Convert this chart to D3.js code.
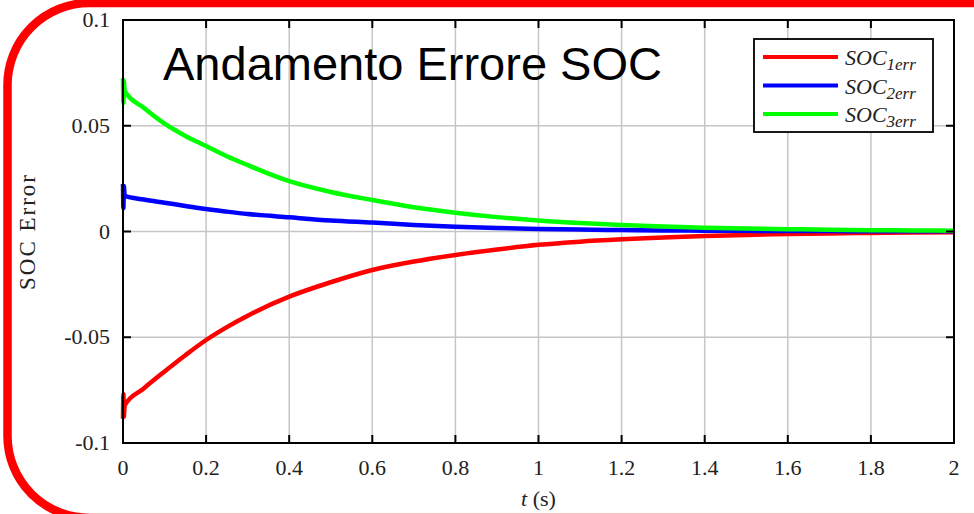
<!DOCTYPE html>
<html>
<head>
<meta charset="utf-8">
<script src="https://cdn.jsdelivr.net/npm/d3@7"></script>
<style>
  html, body { margin: 0; padding: 0; background: #fff; }
  svg { display: block; }
  .tick-label { font-family: 'Liberation Serif', 'Times New Roman', serif; font-size: 22px; fill: #222; }
</style>
</head>
<body>
<div id="root"></div>
<script>
// time samples (s) and the three SOC error traces
const time = [0, 0.001, 0.002, 0.004, 0.05, 0.1, 0.15, 0.2, 0.25, 0.3, 0.4, 0.5, 0.6, 0.7, 0.8, 0.9, 1.0, 1.1, 1.2, 1.3, 1.4, 1.5, 1.6, 1.7, 1.8, 1.9, 2.0];
const soc1err = [-0.0885, -0.0770, -0.0875, -0.0822, -0.0742, -0.0662, -0.0585, -0.0513, -0.0452, -0.0398, -0.0308, -0.0240, -0.0182, -0.0142, -0.0111, -0.0085, -0.0063, -0.0048, -0.0037, -0.0028, -0.0021, -0.0016, -0.0012, -0.0009, -0.0007, -0.0005, -0.0004];
const soc2err = [0.0225, 0.0110, 0.0215, 0.0168, 0.0151, 0.0136, 0.0121, 0.0106, 0.0094, 0.0083, 0.0067, 0.0052, 0.0042, 0.0031, 0.0023, 0.0017, 0.0012, 0.0009, 0.0007, 0.0005, 0.0004, 0.0003, 0.0002, 0.0002, 0.0001, 0.0001, 0.0001];
const soc3err = [0.0725, 0.0608, 0.0712, 0.0665, 0.0585, 0.0510, 0.0452, 0.0404, 0.0356, 0.0314, 0.0238, 0.0187, 0.0149, 0.0115, 0.0089, 0.0068, 0.0052, 0.0040, 0.0031, 0.0024, 0.0018, 0.0014, 0.0011, 0.0008, 0.0006, 0.0005, 0.0004];

const seriesNames = ['1err', '2err', '3err'];
const seriesColors = ['#ff0000', '#0000ff', '#00ff00'];
const seriesValues = [soc1err, soc2err, soc3err];

const xTicks = [0, 0.2, 0.4, 0.6, 0.8, 1, 1.2, 1.4, 1.6, 1.8, 2];
const yTicks = [-0.1, -0.05, 0, 0.05, 0.1];
const yTickLabels = ['-0.1', '-0.05', '0', '0.05', '0.1'];

const titleText = 'Andamento Errore SOC';
const yLabel = 'SOC Error';

const width = 974;
const height = 514;

// plot area
const padding = { top: 20, right: 20, bottom: 71, left: 123 };
const plotW = width - padding.left - padding.right;
const plotH = height - padding.top - padding.bottom;
const tickLen = 8;

const x = d3.scaleLinear().domain([0, 2]).range([0, plotW]);
const y = d3.scaleLinear().domain([-0.1, 0.1]).range([plotH, 0]);

const svg = d3.select('#root').append('svg')
  .attr('width', width)
  .attr('height', height);

svg.append('rect').attr('width', width).attr('height', height).attr('fill', '#fff');

// red rounded frame (runs off the right and bottom edges)
svg.append('rect')
  .attr('x', 7.5).attr('y', 3)
  .attr('width', 1062).attr('height', 515)
  .attr('rx', 82).attr('ry', 82)
  .attr('fill', 'none')
  .attr('stroke', '#ff0000')
  .attr('stroke-width', 8.5);

const g = svg.append('g')
  .attr('transform', `translate(${padding.left},${padding.top})`);

// grid
g.append('g').selectAll('line').data(xTicks.slice(1, -1)).join('line')
  .attr('x1', d => x(d)).attr('x2', d => x(d))
  .attr('y1', 0).attr('y2', plotH)
  .attr('stroke', '#c6c6c6').attr('stroke-width', 1.5);
g.append('g').selectAll('line').data(yTicks.slice(1, -1)).join('line')
  .attr('x1', 0).attr('x2', plotW)
  .attr('y1', d => y(d)).attr('y2', d => y(d))
  .attr('stroke', '#c6c6c6').attr('stroke-width', 1.5);

// title inside the axes
g.append('text')
  .attr('x', 40).attr('y', 60)
  .style('font-family', "'Liberation Sans', Arial, sans-serif")
  .style('font-size', '47px')
  .attr('fill', '#000')
  .text(titleText);

// curves
const line = d3.line()
  .x((d, i) => x(time[i]))
  .y(d => y(d))
  .curve(d3.curveMonotoneX);

g.append('g').selectAll('path').data(seriesValues).join('path')
  .attr('d', d => line(d))
  .attr('fill', 'none')
  .attr('stroke', (d, i) => seriesColors[i])
  .attr('stroke-width', 4.5)
  .attr('stroke-linejoin', 'round');

// box + ticks on all sides
g.append('rect')
  .attr('width', plotW).attr('height', plotH)
  .attr('fill', 'none').attr('stroke', '#000').attr('stroke-width', 2);

const ticksG = g.append('g').attr('stroke', '#000').attr('stroke-width', 2);
xTicks.forEach(t => {
  ticksG.append('line').attr('x1', x(t)).attr('x2', x(t)).attr('y1', plotH).attr('y2', plotH - tickLen);
  ticksG.append('line').attr('x1', x(t)).attr('x2', x(t)).attr('y1', 0).attr('y2', tickLen);
});
yTicks.forEach(t => {
  ticksG.append('line').attr('x1', 0).attr('x2', tickLen).attr('y1', y(t)).attr('y2', y(t));
  ticksG.append('line').attr('x1', plotW).attr('x2', plotW - tickLen).attr('y1', y(t)).attr('y2', y(t));
});

// tick labels
g.append('g').selectAll('text').data(xTicks).join('text')
  .attr('class', 'tick-label')
  .attr('x', d => x(d))
  .attr('y', plotH + 32)
  .attr('text-anchor', 'middle')
  .text(d => d3.format('')(d));

g.append('g').selectAll('text').data(yTicks).join('text')
  .attr('class', 'tick-label')
  .attr('x', -13)
  .attr('y', d => y(d) + 7)
  .attr('text-anchor', 'end')
  .text((d, i) => yTickLabels[i]);

// axis labels
const xl = g.append('text')
  .attr('class', 'tick-label')
  .attr('x', x(1))
  .attr('y', plotH + 63)
  .attr('text-anchor', 'middle');
xl.append('tspan').style('font-style', 'italic').text('t');
xl.append('tspan').text(' (s)');

g.append('text')
  .attr('class', 'tick-label')
  .attr('transform', `translate(${-88},${plotH / 2}) rotate(-90)`)
  .attr('text-anchor', 'middle')
  .style('font-size', '23px')
  .style('letter-spacing', '2px')
  .text(yLabel);

// legend
const legend = g.append('g').attr('transform', `translate(${754 - padding.left},${39 - padding.top})`);
legend.append('rect')
  .attr('width', 179).attr('height', 93)
  .attr('fill', '#fff').attr('stroke', '#000').attr('stroke-width', 1.8);

const items = legend.selectAll('.legend-item').data(seriesNames).join('g')
  .attr('class', 'legend-item')
  .attr('transform', (d, i) => `translate(0,${18 + i * 28.5})`);
items.append('line')
  .attr('x1', 9).attr('x2', 84)
  .attr('stroke', (d, i) => seriesColors[i])
  .attr('stroke-width', 4);
const lt = items.append('text')
  .attr('x', 91).attr('y', 8)
  .style('font-family', "'Liberation Serif', 'Times New Roman', serif")
  .style('font-style', 'italic')
  .style('font-size', '22px')
  .attr('fill', '#222');
lt.append('tspan').text('SOC');
lt.append('tspan').attr('dy', 5).style('font-size', '17px').text(d => d);
</script>
</body>
</html>
